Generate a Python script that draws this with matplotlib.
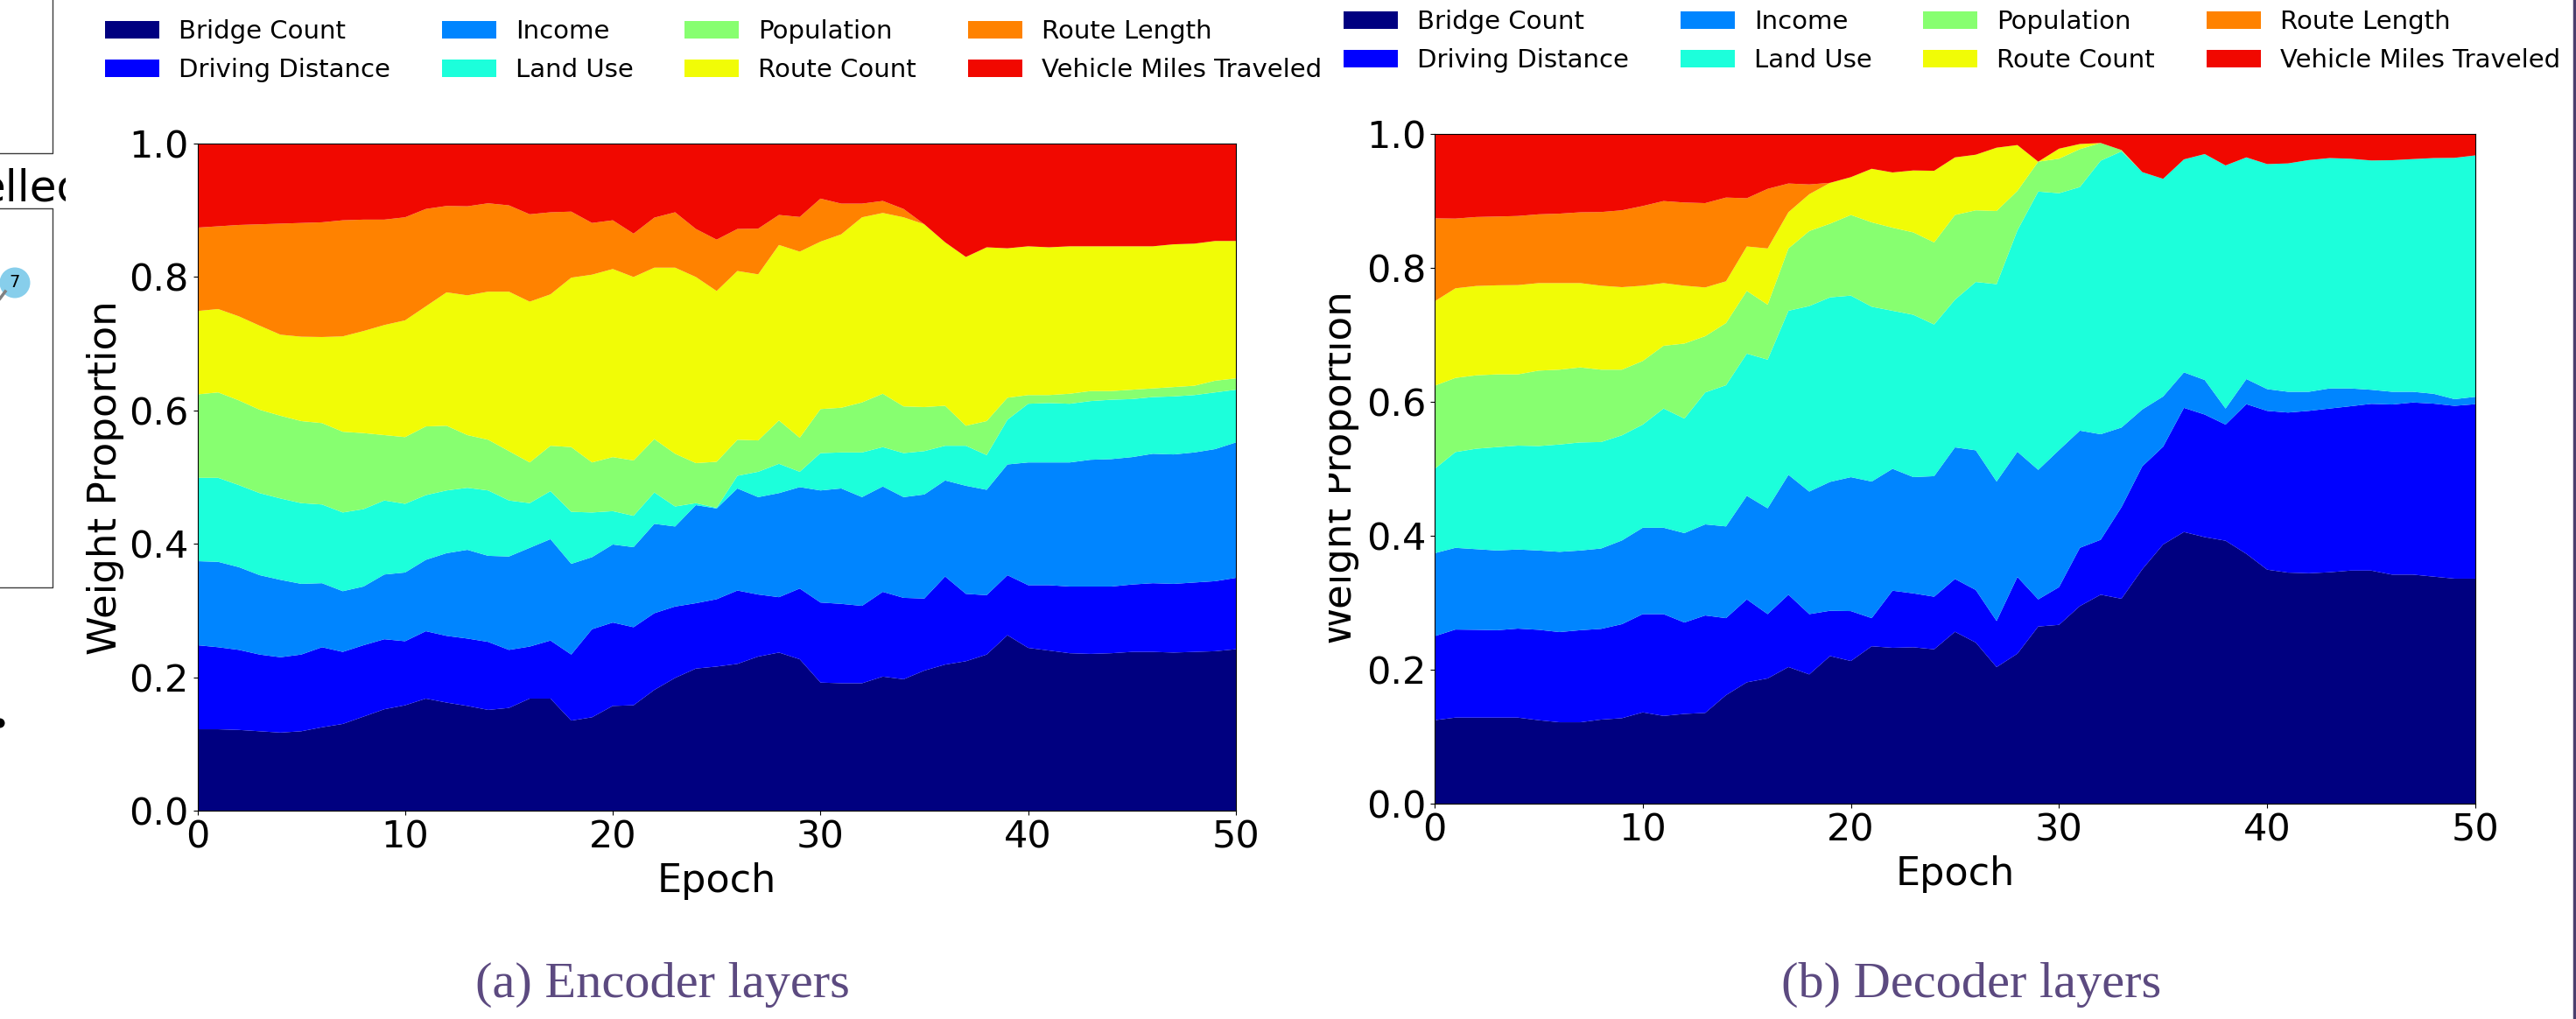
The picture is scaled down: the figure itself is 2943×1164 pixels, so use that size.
import numpy as np
import matplotlib
matplotlib.use("Agg")
import matplotlib.pyplot as plt
from matplotlib.patches import Rectangle, Ellipse

W, H = 2943, 1164
DPI = 100

feature_names = ["Bridge Count", "Driving Distance", "Income", "Land Use",
                 "Population", "Route Count", "Route Length", "Vehicle Miles Traveled"]
epochs = np.arange(51)

# Cumulative upper edge of each band (encoder layers)
enc_bridge = [.122,.122,.121,.119,.117,.119,.125,.130,.141,.152,.158,.168,.162,.157,.151,.154,.168,.168,.135,.140,.157,.158,.181,.199,.213,.216,.220,.231,.237,.227,.192,.191,.191,.201,.197,.210,.219,.224,.234,.263,.244,.240,.236,.235,.236,.238,.238,.237,.238,.239,.242]
enc_driving = [.248,.245,.241,.234,.230,.234,.245,.238,.248,.257,.254,.269,.262,.258,.253,.241,.246,.255,.234,.272,.282,.275,.296,.306,.311,.317,.330,.324,.320,.333,.312,.310,.307,.328,.319,.318,.351,.325,.323,.353,.338,.338,.336,.336,.336,.339,.341,.340,.342,.344,.349]
enc_income = [.374,.373,.365,.353,.346,.340,.341,.329,.336,.354,.357,.376,.386,.391,.382,.381,.394,.407,.370,.380,.399,.395,.430,.426,.458,.453,.483,.470,.476,.485,.480,.483,.470,.486,.470,.474,.495,.487,.481,.519,.522,.522,.522,.526,.527,.530,.535,.534,.537,.542,.552]
enc_land = [.499,.499,.488,.476,.468,.461,.459,.447,.452,.465,.460,.473,.480,.484,.480,.465,.461,.479,.448,.447,.449,.442,.477,.456,.461,.454,.502,.508,.520,.508,.536,.537,.537,.545,.536,.539,.547,.547,.533,.586,.610,.611,.610,.614,.616,.617,.620,.621,.623,.627,.631]
enc_pop = [.624,.627,.615,.601,.592,.584,.581,.568,.566,.563,.560,.576,.577,.563,.556,.539,.522,.547,.545,.522,.530,.525,.557,.535,.521,.523,.556,.555,.585,.559,.602,.604,.612,.625,.606,.605,.607,.577,.584,.619,.623,.623,.625,.629,.629,.631,.633,.635,.637,.6445,.648]
enc_count = [.749,.752,.741,.727,.7135,.7105,.710,.711,.719,.728,.735,.756,.777,.7725,.778,.778,.763,.774,.799,.8035,.812,.800,.814,.814,.800,.779,.809,.804,.848,.838,.853,.864,.8895,.896,.8895,.879,.852,.830,.8445,.843,.846,.8445,.846,.846,.846,.846,.846,.849,.850,.854,.854]
enc_length = [.874,.876,.878,.879,.880,.881,.882,.885,.886,.886,.8895,.902,.9065,.906,.9105,.9074,.894,.897,.898,.881,.885,.865,.889,.897,.872,.856,.872,.8725,.893,.890,.9175,.910,.910,.914,.902,.879,.852,.830,.8445,.843,.846,.8445,.846,.846,.846,.846,.846,.849,.850,.854,.854]

# Cumulative upper edge of each band (decoder layers)
dec_bridge = [.1246,.1285,.1285,.1285,.1285,.1246,.1215,.1215,.1255,.1276,.1363,.131,.134,.1355,.162,.1812,.187,.204,.193,.2204,.213,.235,.2327,.2335,.2305,.2566,.2405,.2039,.224,.2645,.267,.295,.312,.306,.350,.387,.4056,.398,.3926,.373,.3494,.345,.344,.3455,.348,.348,.342,.342,.339,.336,.336]
dec_driving = [.250,.260,.2596,.259,.2614,.2596,.2562,.259,.261,.268,.283,.283,.2705,.281,.277,.305,.283,.312,.283,.288,.2875,.277,.318,.314,.309,.3355,.319,.2727,.3385,.305,.3233,.382,.394,.4427,.5037,.533,.591,.581,.566,.5965,.5865,.584,.5865,.590,.5934,.597,.596,.599,.5973,.594,.5965]
dec_income = [.374,.382,.380,.378,.3795,.378,.376,.378,.381,.393,.412,.412,.404,.417,.414,.4597,.441,.491,.466,.4805,.4875,.481,.500,.4876,.489,.532,.5276,.481,.5255,.4984,.528,.557,.5516,.5616,.5886,.608,.644,.6326,.590,.634,.619,.615,.615,.620,.620,.618,.615,.615,.612,.604,.6075]
dec_land = [.4998,.525,.530,.5324,.5346,.534,.5363,.5394,.540,.550,.566,.590,.575,.614,.6248,.672,.663,.736,.743,.756,.7586,.742,.736,.730,.7155,.7525,.779,.7757,.856,.914,.9115,.9207,.960,.974,.943,.933,.962,.970,.953,.965,.955,.956,.961,.964,.963,.9604,.9608,.9625,.964,.9643,.968]
dec_pop = [.624,.6357,.6396,.641,.641,.6466,.648,.6514,.648,.648,.661,.6837,.687,.698,.7176,.7656,.745,.829,.855,.866,.879,.868,.860,.853,.838,.879,.886,.885,.915,.9586,.963,.9773,.9865,.976,.943,.933,.962,.970,.953,.965,.955,.956,.961,.964,.963,.9604,.9608,.9625,.964,.9643,.968]
dec_count = [.750,.7695,.773,.774,.7743,.7773,.7773,.7773,.7734,.7712,.7734,.7773,.7734,.7708,.780,.832,.829,.8832,.910,.927,.9355,.948,.9425,.9455,.945,.965,.969,.9795,.9834,.9586,.978,.985,.9865,.976,.943,.933,.962,.970,.953,.965,.955,.956,.961,.964,.963,.9604,.9608,.9625,.964,.9643,.968]
dec_length = [.874,.8736,.876,.8767,.8775,.880,.881,.883,.8834,.886,.8924,.8998,.8976,.8967,.905,.904,.918,.926,.9246,.927,.9355,.948,.9425,.9455,.945,.965,.969,.9795,.9834,.9586,.978,.985,.9865,.976,.943,.933,.962,.970,.953,.965,.955,.956,.961,.964,.963,.9604,.9608,.9625,.964,.9643,.968]

encoder_edges = [enc_bridge, enc_driving, enc_income, enc_land, enc_pop, enc_count, enc_length]
decoder_edges = [dec_bridge, dec_driving, dec_income, dec_land, dec_pop, dec_count, dec_length]

captions = ["(a) Encoder layers", "(b) Decoder layers"]
xticks = [0, 10, 20, 30, 40, 50]
yticks = [0.0, 0.2, 0.4, 0.6, 0.8, 1.0]

colors = plt.cm.jet(np.linspace(0, 0.9, 8))
TICK = 31
LEG = 21
CAP = "#5c4a80"
LINE = "#3c3c3c"

fig = plt.figure(figsize=(W / DPI, H / DPI), dpi=DPI, facecolor="white")

# Full-figure layer addressed in pixels, for page furniture around the charts
page = fig.add_axes([0, 0, 1, 1], zorder=0)
page.set_xlim(0, W)
page.set_ylim(H, 0)
page.axis("off")


def panel(px_box, edges):
    x0, x1, top, bottom = px_box
    ax = fig.add_axes([x0 / W, 1 - bottom / H, (x1 - x0) / W, (bottom - top) / H], zorder=2)
    tops = np.vstack([np.asarray(e) for e in edges] + [np.ones(len(epochs))])
    layers = np.diff(np.vstack([np.zeros(len(epochs)), tops]), axis=0)
    handles = ax.stackplot(epochs, layers, colors=colors, labels=feature_names, linewidth=0)
    ax.set_xlim(0, 50)
    ax.set_ylim(0, 1)
    ax.set_xticks(xticks)
    ax.set_yticks(yticks)
    ax.tick_params(labelsize=TICK)
    ax.set_xlabel("Epoch", fontsize=32, labelpad=5)
    return ax, handles


ax_a, h_a = panel((225.5, 1412, 164, 926), encoder_edges)
ax_b, h_b = panel((1639, 2828, 153, 918), decoder_edges)


def legend(handles, x, y):
    fig.legend(handles, feature_names, ncol=4, loc="upper left",
               bbox_to_anchor=(x / W, 1 - y / H), bbox_transform=fig.transFigure,
               frameon=False, fontsize=LEG, borderpad=0, borderaxespad=0,
               handlelength=2.12, handletextpad=0.76, columnspacing=2.02, labelspacing=0.56)


legend(h_a, 120, 22)
legend(h_b, 1535, 11)

# Y labels (the second is cut off by the edge of its image)
page.text(142, 546, "Weight Proportion", rotation=90, ha="right", va="center", fontsize=32.5)
lab = page.text(1553, 535, "Weight Proportion", rotation=90, ha="right", va="center", fontsize=32.5)
clip = Rectangle((1518, 0), 200, H, transform=page.transData)
lab.set_clip_path(clip)
lab.set_clip_on(True)

# Captions
for cx, cap in zip([757, 2252], captions):
    page.text(cx, 1125, cap, ha="center", va="center", fontsize=42,
              family="Liberation Serif", color=CAP)

# Remains of the neighbouring content at the left and right edges
page.plot([0, 59.5, 59.5], [175, 175, 0], color=LINE, lw=1)
page.plot([0, 59.5, 59.5, 0], [238, 238, 671, 671], color=LINE, lw=1)
clipped = page.text(-25, 230, "elled", fontsize=36, va="baseline", ha="left")
clipped.set_clip_path(Rectangle((-40, 150), 115, 120, transform=page.transData))
clipped.set_clip_on(True)
page.plot([0, 6], [341, 333], color="#808080", lw=2.5)
page.add_patch(Ellipse((17, 323), 35, 35, facecolor="#87ceeb", edgecolor="none"))
page.text(17, 322, "7", ha="center", va="center", fontsize=14)
page.add_patch(Ellipse((0, 826), 11, 11, facecolor="black", edgecolor="none"))
page.plot([2940.5, 2940.5], [0, H], color="#4b3f6e", lw=2.5)

fig.savefig("out.png", dpi=DPI, facecolor="white")
